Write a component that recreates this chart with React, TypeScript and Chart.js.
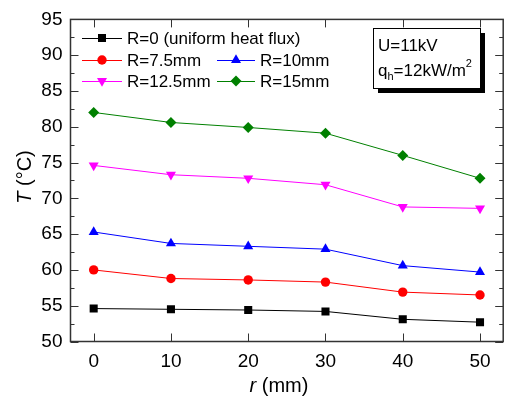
import React, { useEffect, useRef } from "react";
import { Chart, registerables } from "chart.js";

Chart.register(...registerables);

const rValues = [0, 10, 20, 30, 40, 50];
const seriesLabels = [
  "R=0 (uniform heat flux)",
  "R=7.5mm",
  "R=10mm",
  "R=12.5mm",
  "R=15mm",
];
const tR0 = [54.6, 54.5, 54.4, 54.2, 53.1, 52.7];
const tR75 = [60.0, 58.8, 58.6, 58.3, 56.9, 56.5];
const tR10 = [65.3, 63.7, 63.3, 62.9, 60.6, 59.7];
const tR125 = [74.6, 73.3, 72.8, 71.9, 68.8, 68.6];
const tR15 = [82.0, 80.6, 79.9, 79.1, 76.0, 72.8];
const yTicks = [50, 55, 60, 65, 70, 75, 80, 85, 90, 95];

const colors = ["#000000", "#ff0000", "#0000ff", "#ff00ff", "#008000"];
const markers = ["rect", "circle", "triangle", "triangleDown", "rectRot"];
const FONT = "'Liberation Sans', Arial, sans-serif";

function drawMarker(ctx: CanvasRenderingContext2D, kind: string, x: number, y: number, color: string) {
  ctx.save();
  ctx.fillStyle = color;
  ctx.beginPath();
  if (kind === "rect") {
    ctx.rect(x - 4, y - 4, 8, 8);
  } else if (kind === "circle") {
    ctx.arc(x, y, 4.7, 0, Math.PI * 2);
  } else if (kind === "triangle") {
    const r = 5.8;
    ctx.moveTo(x, y - r);
    ctx.lineTo(x + r * 0.866, y + r * 0.5);
    ctx.lineTo(x - r * 0.866, y + r * 0.5);
    ctx.closePath();
  } else if (kind === "triangleDown") {
    const r = 5.8;
    ctx.moveTo(x, y + r);
    ctx.lineTo(x + r * 0.866, y - r * 0.5);
    ctx.lineTo(x - r * 0.866, y - r * 0.5);
    ctx.closePath();
  } else {
    const r = 5.5;
    ctx.moveTo(x - r, y);
    ctx.lineTo(x, y - r);
    ctx.lineTo(x + r, y);
    ctx.lineTo(x, y + r);
    ctx.closePath();
  }
  ctx.fill();
  ctx.restore();
}

const decorPlugin = {
  id: "decor",
  afterDatasetsDraw(chart: any) {
    const ctx: CanvasRenderingContext2D = chart.ctx;
    const { left, right, top, bottom } = chart.chartArea;
    const xs = chart.scales.x;
    const ys = chart.scales.y;
    ctx.save();
    // frame
    ctx.strokeStyle = "#333333";
    ctx.lineWidth = 1.5;
    ctx.strokeRect(left, top, right - left, bottom - top);
    // y ticks (inward, both sides), with minor ticks
    ctx.lineWidth = 1;
    for (let v = ys.min; v <= ys.max + 0.001; v += 2.5) {
      const py = Math.round(ys.getPixelForValue(v)) + 0.5;
      const len = Math.abs(v % 5) < 0.001 ? 8 : 4;
      ctx.beginPath();
      ctx.moveTo(left, py);
      ctx.lineTo(left + len, py);
      ctx.moveTo(right, py);
      ctx.lineTo(right - len, py);
      ctx.stroke();
    }
    for (const v of rValues) {
      const px = Math.round(xs.getPixelForValue(v)) + 0.5;
      ctx.beginPath();
      ctx.moveTo(px, bottom);
      ctx.lineTo(px, bottom - 8);
      ctx.moveTo(px, top);
      ctx.lineTo(px, top + 8);
      ctx.stroke();
    }
    // legend
    const legendPos = [
      [82, 122, 38, 127],
      [82, 122, 60, 127],
      [217, 255, 60, 260],
      [82, 122, 81, 127],
      [217, 255, 81, 260],
    ];
    ctx.font = `17px ${FONT}`;
    ctx.textBaseline = "middle";
    ctx.textAlign = "left";
    chart.data.datasets.forEach((ds: any, i: number) => {
      const [x1, x2, y, tx] = legendPos[i];
      ctx.strokeStyle = ds.borderColor;
      ctx.lineWidth = 1;
      ctx.beginPath();
      ctx.moveTo(x1, y + 0.5);
      ctx.lineTo(x2, y + 0.5);
      ctx.stroke();
      drawMarker(ctx, markers[i], (x1 + x2) / 2, y, ds.borderColor);
      ctx.fillStyle = "#000";
      ctx.fillText(ds.label, tx, y + 1);
    });
    // annotation box
    ctx.fillStyle = "#000";
    ctx.fillRect(378, 33, 107, 60);
    ctx.fillStyle = "#fff";
    ctx.fillRect(373, 28, 107, 60);
    ctx.strokeStyle = "#000";
    ctx.lineWidth = 1;
    ctx.strokeRect(373.5, 28.5, 107, 60);
    ctx.fillStyle = "#000";
    ctx.font = `17px ${FONT}`;
    ctx.textBaseline = "alphabetic";
    ctx.fillText("U=11kV", 378, 51);
    let x = 378;
    ctx.fillText("q", x, 76);
    x += ctx.measureText("q").width;
    ctx.font = `11px ${FONT}`;
    ctx.fillText("h", x, 80);
    x += ctx.measureText("h").width;
    ctx.font = `17px ${FONT}`;
    ctx.fillText("=12kW/m", x, 76);
    x += ctx.measureText("=12kW/m").width;
    ctx.font = `11px ${FONT}`;
    ctx.fillText("2", x, 67);
    // axis titles
    ctx.textBaseline = "middle";
    const drawMixed = (parts: [string, boolean][], cx: number, cy: number) => {
      let total = 0;
      for (const [t, it] of parts) {
        ctx.font = `${it ? "italic " : ""}20px ${FONT}`;
        total += ctx.measureText(t).width;
      }
      let px = cx - total / 2;
      for (const [t, it] of parts) {
        ctx.font = `${it ? "italic " : ""}20px ${FONT}`;
        ctx.fillText(t, px, cy);
        px += ctx.measureText(t).width;
      }
    };
    ctx.fillStyle = "#000";
    drawMixed([["r", true], [" (mm)", false]], 279, 386);
    ctx.save();
    ctx.translate(25, 177);
    ctx.rotate(-Math.PI / 2);
    drawMixed([["T", true], [" (°C)", false]], 0, 0);
    ctx.restore();
    ctx.restore();
  },
};

export default function App() {
  const ref = useRef<HTMLCanvasElement>(null);
  useEffect(() => {
    if (!ref.current) return;
    const series = [tR0, tR75, tR10, tR125, tR15];
    const pointStyles: any[] = ["rect", "circle", "triangle", "triangle", "rectRot"];
    const rotations = [0, 0, 0, 180, 0];
    const radii = [5.7, 4.7, 5.8, 5.8, 5.5];
    const chart = new Chart(ref.current, {
      type: "line",
      data: {
        datasets: series.map((vals, i) => ({
          label: seriesLabels[i],
          data: vals.map((v, j) => ({ x: rValues[j], y: v })),
          borderColor: colors[i],
          backgroundColor: colors[i],
          borderWidth: 1,
          pointStyle: pointStyles[i],
          rotation: rotations[i],
          pointRadius: radii[i],
          pointBorderWidth: 0,
          tension: 0,
        })),
      },
      options: {
        responsive: false,
        animation: false,
        layout: { padding: { top: 17.5, right: 0.5, left: 0, bottom: 0 } },
        plugins: { legend: { display: false }, tooltip: { enabled: false } },
        scales: {
          x: {
            type: "linear",
            min: -3,
            max: 53,
            grid: { display: false, drawTicks: false },
            border: { display: false },
            afterBuildTicks: (s: any) => {
              s.ticks = rValues.map((value) => ({ value }));
            },
            afterFit: (s: any) => {
              s.height = 57.5;
            },
            ticks: {
              font: { family: FONT, size: 19 },
              color: "#000",
              padding: 9,
              maxRotation: 0,
            },
          },
          y: {
            min: 50,
            max: 95,
            grid: { display: false, drawTicks: false },
            border: { display: false },
            afterBuildTicks: (s: any) => {
              s.ticks = yTicks.map((value) => ({ value }));
            },
            afterFit: (s: any) => {
              s.width = 70.5;
            },
            ticks: {
              font: { family: FONT, size: 19 },
              color: "#000",
              padding: 8,
            },
          },
        },
      },
      plugins: [decorPlugin],
    });
    return () => chart.destroy();
  }, []);
  return (
    <div style={{ position: "absolute", left: 0, top: 0, width: 507, height: 399, overflow: "hidden", background: "#fff" }}>
      <canvas ref={ref} width={509} height={399} style={{ display: "block" }} />
    </div>
  );
}
